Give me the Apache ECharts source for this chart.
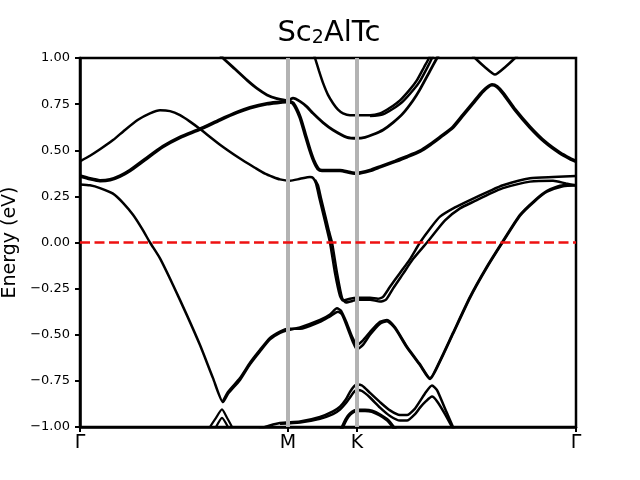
<!DOCTYPE html>
<html><head><meta charset="utf-8">
<script src="https://cdn.jsdelivr.net/npm/echarts@6/dist/echarts.min.js"></script>
<style>html,body{margin:0;padding:0;background:#fff}#c{width:640px;height:480px}</style>
</head><body><div id="c"></div>
<script>
// k-path positions of the high-symmetry points (arbitrary distance units)
const kTicks = [0, 208, 277, 496];
const kLabels = ['Γ', 'M', 'K', 'Γ'];
const fermiLevel = [[0, 0], [496, 0]];

// bands: [k, E(eV)]
const bandA = [[0,0.315],[10,0.31],[20,0.295],[33,0.265],[43,0.215],[53,0.15],[62,0.075],[70,0.0],[80,-0.086],[93,-0.23],[107,-0.395],[120,-0.556],[133,-0.735],[143,-0.865],[148,-0.82],[160,-0.745],[170,-0.66],[180,-0.59],[190,-0.525],[200,-0.49],[208,-0.475],[220,-0.46],[240,-0.42],[250,-0.39],[257,-0.357],[261,-0.37],[267,-0.44],[272,-0.51],[277,-0.555],[283,-0.53],[290,-0.485],[300,-0.43],[307,-0.42],[315,-0.46],[327,-0.565],[340,-0.66],[350,-0.735],[360,-0.64],[373,-0.49],[390,-0.295],[407,-0.13],[422,0.0],[440,0.15],[455,0.23],[467,0.28],[483,0.31],[496,0.31]];
const bandA2 = [[143,-0.86],[148,-0.81],[160,-0.735],[170,-0.652],[180,-0.582],[190,-0.517],[200,-0.483],[208,-0.468],[220,-0.468],[240,-0.43],[250,-0.40],[258,-0.375],[262,-0.39],[268,-0.47],[273,-0.54],[277,-0.58],[283,-0.555],[290,-0.50],[300,-0.44],[307,-0.427],[315,-0.465],[327,-0.57],[340,-0.665],[350,-0.74],[360,-0.645],[373,-0.495],[390,-0.30],[407,-0.135],[422,-0.005],[440,0.145],[455,0.225],[467,0.275],[483,0.305],[496,0.31]];
const bandB = [[0,0.44],[10,0.47],[20,0.505],[33,0.555],[45,0.61],[58,0.665],[70,0.70],[80,0.717],[90,0.712],[100,0.69],[110,0.655],[120,0.615],[140,0.53],[160,0.455],[175,0.405],[185,0.373],[193,0.355],[200,0.342],[210,0.335],[220,0.345],[230,0.355],[233,0.35],[236,0.32],[239,0.25],[243,0.16],[247,0.07],[250,0.0],[255,-0.165],[260,-0.29],[263,-0.315],[270,-0.305],[277,-0.30],[290,-0.30],[298,-0.305],[303,-0.295],[310,-0.24],[320,-0.165],[330,-0.09],[340,0.0],[350,0.075],[360,0.14],[375,0.19],[390,0.23],[410,0.28],[423,0.31],[450,0.348],[473,0.355],[496,0.36]];
const bandB2 = [[235,0.34],[238,0.31],[241,0.24],[245,0.15],[249,0.06],[252,0.0],[257,-0.165],[262,-0.30],[266,-0.325],[272,-0.318],[277,-0.31],[290,-0.31],[300,-0.32],[306,-0.31],[313,-0.25],[323,-0.17],[333,-0.09],[347,0.0],[365,0.12],[380,0.185],[395,0.225],[410,0.265],[423,0.295],[450,0.33],[473,0.335],[486,0.32],[496,0.31]];
const bandC = [[0,0.36],[10,0.345],[20,0.335],[30,0.34],[40,0.36],[50,0.39],[65,0.45],[83,0.52],[100,0.57],[120,0.615],[140,0.665],[157,0.705],[170,0.73],[187,0.752],[200,0.76],[208,0.765],[213,0.755],[220,0.68],[225,0.59],[230,0.50],[234,0.44],[238,0.40],[242,0.39],[250,0.39],[260,0.39],[270,0.38],[277,0.375],[290,0.39],[300,0.41],[315,0.44],[327,0.465],[340,0.495],[350,0.53],[360,0.57],[373,0.625],[383,0.69],[393,0.755],[403,0.82],[412,0.855],[417,0.845],[423,0.81],[435,0.72],[450,0.625],[465,0.545],[480,0.485],[490,0.455],[496,0.44]];
const bandD = [[138,1.03],[143,1.0],[155,0.94],[167,0.88],[177,0.835],[187,0.80],[197,0.78],[208,0.77],[213,0.782],[220,0.765],[227,0.735],[233,0.70],[243,0.65],[253,0.61],[267,0.57],[277,0.565],[285,0.57],[293,0.585],[303,0.61],[313,0.65],[323,0.70],[333,0.77],[340,0.83],[350,0.93],[357,1.0],[360,1.03]];
const bandE = [[232,1.05],[235,1.0],[239,0.93],[243,0.865],[248,0.80],[253,0.755],[258,0.72],[263,0.70],[270,0.69],[277,0.69],[290,0.69],[300,0.70],[310,0.73],[320,0.77],[330,0.83],[337,0.88],[344,0.95],[349,1.0],[351,1.03]];
const bandE2 = [[290,0.685],[303,0.695],[313,0.725],[323,0.765],[333,0.825],[340,0.875],[347,0.945],[352,1.0],[354,1.03]];
const bandF = [[390,1.03],[395,1.0],[405,0.95],[415,0.91],[425,0.95],[435,1.0],[440,1.03]];
const bandL1 = [[178,-1.02],[185,-1.0],[200,-0.978],[220,-0.97],[240,-0.945],[253,-0.915],[260,-0.89],[266,-0.85],[270,-0.81],[274,-0.78],[277,-0.77],[282,-0.775],[290,-0.815],[300,-0.865],[310,-0.91],[320,-0.935],[327,-0.935],[335,-0.9],[340,-0.86],[346,-0.81],[352,-0.775],[357,-0.8],[365,-0.9],[373,-1.0],[376,-1.03]];
const bandL2 = [[200,-0.982],[220,-0.975],[240,-0.955],[253,-0.93],[260,-0.905],[266,-0.87],[270,-0.84],[274,-0.81],[277,-0.80],[282,-0.805],[290,-0.84],[300,-0.895],[310,-0.94],[320,-0.965],[327,-0.965],[335,-0.93],[340,-0.895],[346,-0.86],[352,-0.835],[357,-0.86],[365,-0.93],[375,-1.03]];
const bandL3 = [[260,-1.03],[266,-0.96],[270,-0.93],[277,-0.91],[285,-0.91],[292,-0.915],[300,-0.935],[308,-0.965],[316,-1.02]];
const bandL4 = [[128,-1.03],[130,-1.0],[136,-0.95],[142,-0.905],[147,-0.95],[152,-1.0],[154,-1.03]];
const bandL4b = [[134,-1.03],[136,-1.0],[142,-0.95],[148,-1.0],[150,-1.03]];

const FONT = 'DejaVu Sans';
const bandList = [
  [bandA, 2.5], [bandA2, 2.5], [bandB, 2.5], [bandB2, 2.5], [bandC, 3.6],
  [bandD, 2.8], [bandE, 2.5], [bandE2, 2.5], [bandF, 2.5],
  [bandL1, 2.5], [bandL2, 2.5], [bandL3, 3.6], [bandL4, 2.2], [bandL4b, 2.2]
];

const series = [];
series.push({
  type: 'line', data: [], z: 1, silent: true,
  markLine: {
    silent: true, symbol: ['none', 'none'], label: {show: false},
    lineStyle: {color: '#b3b3b3', width: 4, type: 'solid'},
    emphasis: {disabled: true},
    data: [{xAxis: kTicks[1]}, {xAxis: kTicks[2]}]
  }
});
bandList.forEach(([d, w]) => series.push({
  type: 'line', data: d, showSymbol: false, smooth: 0.2, z: 2, silent: true,
  lineStyle: {color: '#000', width: w}
}));
series.push({
  type: 'line', data: fermiLevel, showSymbol: false, z: 5, silent: true,
  lineStyle: {color: '#ee1111', width: 2.6, type: [10, 4.5]}
});

const chart = echarts.init(document.getElementById('c'));
chart.setOption({
  animation: false,
  backgroundColor: '#fff',
  title: {
    text: '{a|Sc}{b|2}{a|AlTc}',
    left: 329, top: 18, padding: 0, textAlign: 'center',
    textStyle: {
      rich: {
        a: {fontSize: 29, lineHeight: 30, fontFamily: FONT, fontWeight: 'normal', color: '#000'},
        b: {fontSize: 19, lineHeight: 14, fontFamily: FONT, fontWeight: 'normal', color: '#000', verticalAlign: 'bottom'}
      }
    }
  },
  grid: {left: 80, right: 64, top: 58, bottom: 53, containLabel: false, outerBoundsMode: 'none',
         show: true, borderColor: '#000', borderWidth: 2.5, backgroundColor: 'transparent'},
  xAxis: {
    type: 'value', min: kTicks[0], max: kTicks[3],
    splitLine: {show: false},
    axisLine: {show: true, onZero: false, lineStyle: {color: '#000', width: 2.5}},
    axisTick: {show: true, customValues: kTicks, length: 5, lineStyle: {color: '#000', width: 2}},
    axisLabel: {
      customValues: kTicks, margin: 7, color: '#000', fontSize: 19, fontFamily: FONT,
      formatter: v => kLabels[kTicks.indexOf(v)]
    }
  },
  yAxis: {
    type: 'value', min: -1, max: 1, interval: 0.25,
    name: 'Energy (eV)', nameLocation: 'middle', nameGap: 58,
    nameTextStyle: {fontSize: 19, fontFamily: FONT, color: '#000'},
    splitLine: {show: false},
    axisLine: {show: true, onZero: false, lineStyle: {color: '#000', width: 2.5}},
    axisTick: {show: true, length: 5, lineStyle: {color: '#000', width: 2}},
    axisLabel: {
      margin: 10, color: '#000', fontSize: 13, fontFamily: FONT,
      formatter: v => v.toFixed(2).replace('-', '\u2212')
    }
  },
  series: series
});
</script>
</body></html>
